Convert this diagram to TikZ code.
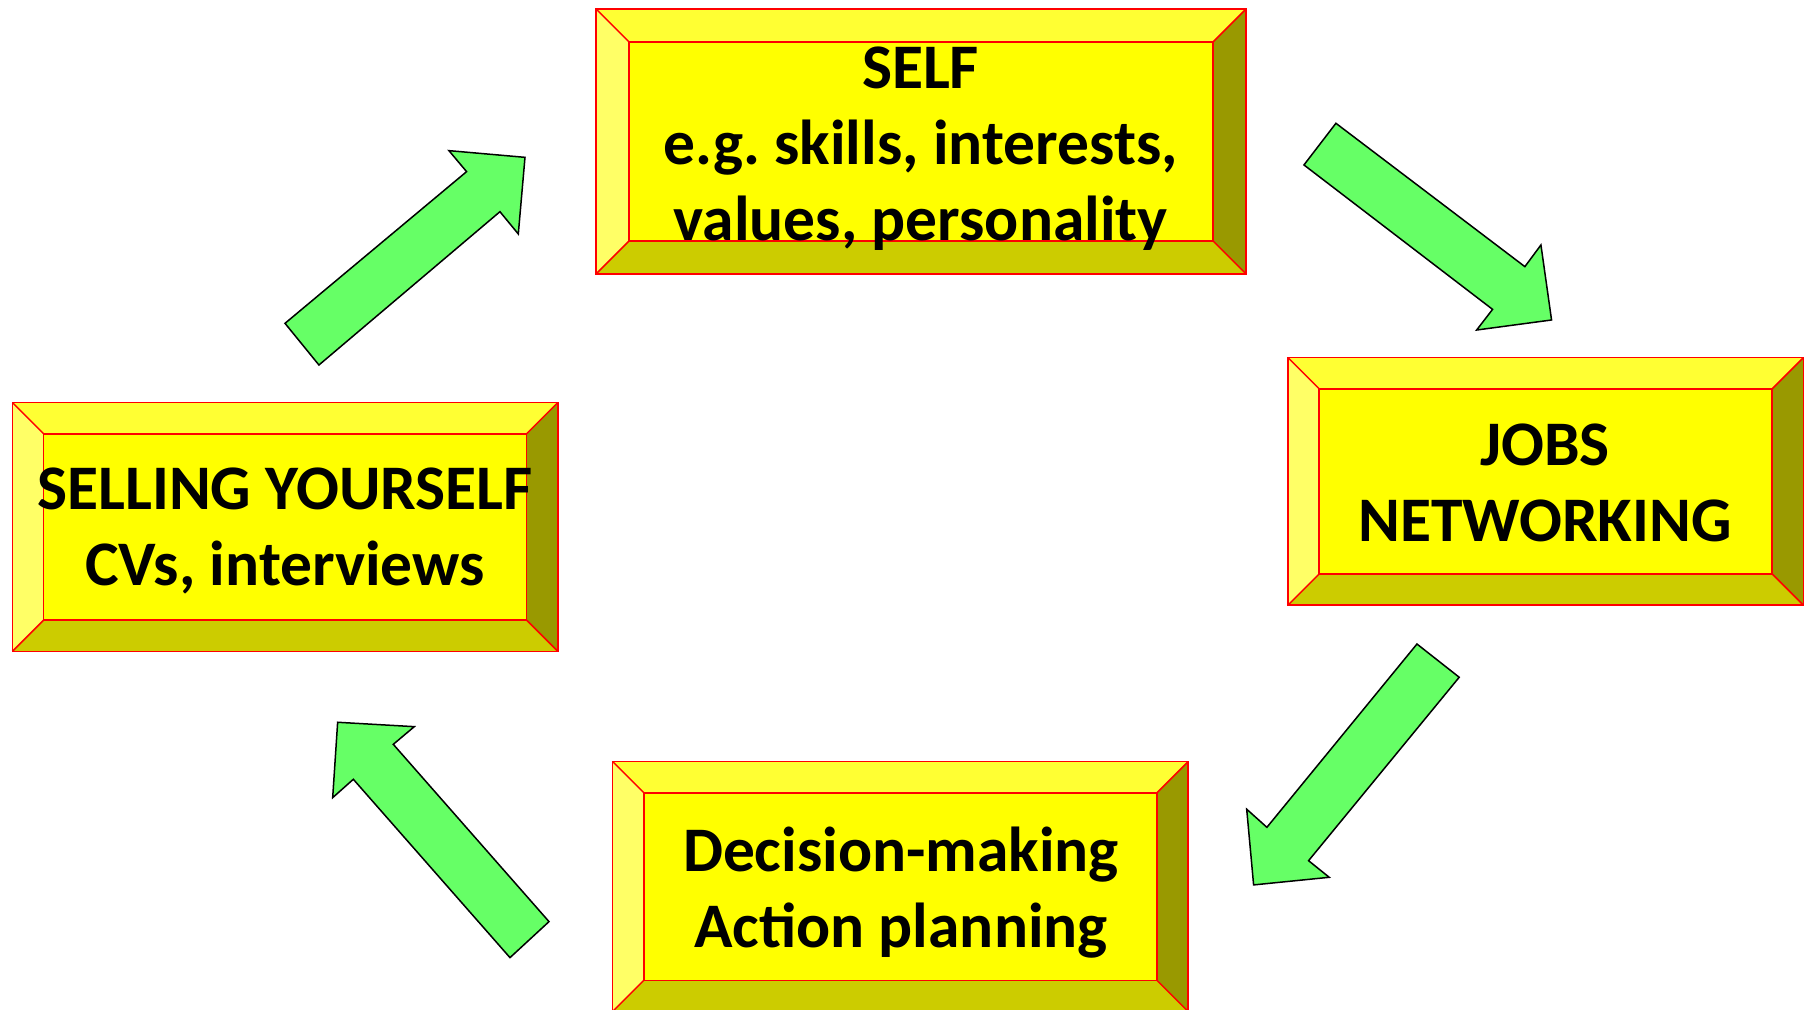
\documentclass[tikz,border=0pt]{standalone}
\usepackage{fontspec}
\setmainfont{Carlito}
\usetikzlibrary{calc}
\definecolor{bxmain}{HTML}{FFFF00}
\definecolor{bxtop}{HTML}{FFFF33}
\definecolor{bxleft}{HTML}{FFFF66}
\definecolor{bxbottom}{HTML}{CCCC00}
\definecolor{bxright}{HTML}{999900}
\definecolor{bxline}{HTML}{FF0000}
\definecolor{arrowgreen}{HTML}{66FF66}
\frenchspacing
\newcommand\bevelframe[2]{%
  \fill[bxtop] (#1.north west) -- ++(-#2,-#2) -- ($(#1.north east)+(#2,-#2)$) -- (#1.north east) -- cycle;
  \fill[bxbottom] (#1.south west) -- ++(-#2,#2) -- ($(#1.south east)+(#2,#2)$) -- (#1.south east) -- cycle;
  \fill[bxleft] (#1.north west) -- ++(-#2,-#2) -- ($(#1.south west)+(-#2,#2)$) -- (#1.south west) -- cycle;
  \fill[bxright] (#1.north east) -- ++(#2,-#2) -- ($(#1.south east)+(#2,#2)$) -- (#1.south east) -- cycle;
  \draw[bevelline] ($(#1.north west)+(-#2,-#2)$) rectangle ($(#1.south east)+(#2,#2)$);
  \draw[bevelline] (#1.north west) rectangle (#1.south east);
  \draw[bevelline] (#1.north west) -- ++(-#2,-#2);
  \draw[bevelline] (#1.north east) -- ++(#2,-#2);
  \draw[bevelline] (#1.south west) -- ++(-#2,#2);
  \draw[bevelline] (#1.south east) -- ++(#2,#2);
}
\begin{document}
\begin{tikzpicture}[x=1pt,y=-1pt,
  bevelline/.style={draw=bxline, line width=1.3pt},
  boxface/.style={fill=bxmain, draw=none, inner sep=0pt},
  boxtext/.style={font=\bfseries\fontsize{55}{66}\selectfont, align=center, inner sep=0pt, text=black},
  blockarrow/.style={fill=arrowgreen, draw=black, line width=1.3pt, line join=miter}]
\useasboundingbox (0,0) rectangle (1568,874.1);
\fill[white] (0,0) rectangle (1568,874.1);

% boxes
\node[boxface, minimum width=505.5pt, minimum height=172pt] (self) at (797.9,122.5) {};
\bevelframe{self}{28.5}
\node[boxface, minimum width=392pt, minimum height=160pt] (jobs) at (1339,417) {};
\bevelframe{jobs}{27}
\node[boxface, minimum width=418pt, minimum height=161pt] (sell) at (247,456.5) {};
\bevelframe{sell}{27}
\node[boxface, minimum width=444pt, minimum height=162pt] (dec) at (780,768) {};
\bevelframe{dec}{27}

% texts
\node[boxtext] (selft) at (797.5,129) {SELF\\e.g. skills, interests,\\values, personality};
\node[boxtext] (jobst) at (1338.5,418.5) {JOBS\\NETWORKING};
\node[boxtext] (sellt) at (247,460) {SELLING YOURSELF\\CVs, interviews};
\node[boxtext] (dect) at (780.5,773) {Decision-making\\Action planning};

% block arrows
\draw[blockarrow] (246.9,280.1) -- (404.2,148.7) -- (388.9,130.5) -- (454.8,136.3) -- (449,202.7) -- (433.1,183.4) -- (276.3,316.2) -- cycle;
\draw[blockarrow] (1157.3,106.8) -- (1321,231) -- (1334.9,212.2) -- (1344.1,277.2) -- (1279.2,285.9) -- (1293,268) -- (1129.6,142.9) -- cycle;
\draw[blockarrow] (1227.5,557.9) -- (1264.1,586.7) -- (1133.6,745.6) -- (1151.5,760) -- (1086,766.6) -- (1080,701) -- (1097.5,716.7) -- cycle;
\draw[blockarrow] (475.6,798.4) -- (340.7,644.8) -- (358.9,629.5) -- (292.5,625.7) -- (288.2,691) -- (306.1,675.1) -- (441.8,829.6) -- cycle;
\end{tikzpicture}
\end{document}
